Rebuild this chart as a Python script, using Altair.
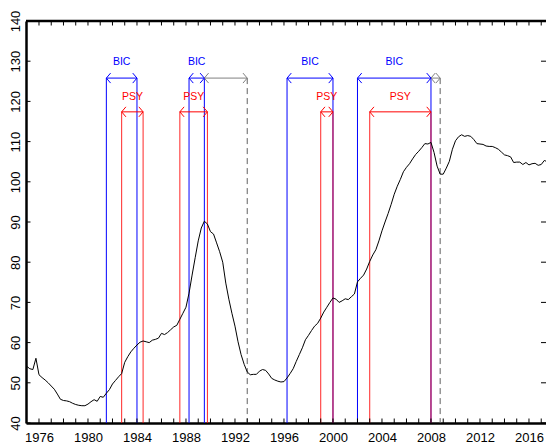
import altair as alt
import pandas as pd

# ---------------- data ----------------
start_year = 1975.0
hpi = [
    54.1, 53.5, 53.3, 56.1,
    52.0, 51.3, 50.7, 50.0,
    49.2, 48.4, 47.2, 45.9,
    45.6, 45.5, 45.3, 44.9,
    44.6, 44.4, 44.3, 44.3,
    44.7, 45.3, 45.8, 45.4,
    46.6, 46.4, 47.4, 48.3,
    49.7, 50.6, 51.5, 52.3,
    55.1, 56.5, 57.7, 58.6,
    59.4, 60.1, 60.4, 60.2,
    60.0, 60.6, 60.8, 61.1,
    62.3, 62.0, 62.5, 63.2,
    63.9, 64.3, 65.8, 67.3,
    68.8, 72.3, 76.8, 81.1,
    85.3, 88.5, 90.2, 89.5,
    87.6, 87.0, 84.8, 82.6,
    80.0, 74.8, 70.8, 67.3,
    64.1, 60.2, 57.0, 54.6,
    52.7, 52.0, 52.1, 52.1,
    52.9, 53.3, 53.1, 52.2,
    51.1, 50.7, 50.4, 50.2,
    50.3, 51.2, 52.3, 53.5,
    55.3, 57.0, 58.7, 60.7,
    61.8, 63.0, 64.1, 64.8,
    66.1, 67.6, 68.8, 70.0,
    71.1, 70.8, 70.0, 70.4,
    70.9, 70.7, 71.4, 72.1,
    75.1, 76.0, 76.8, 78.3,
    80.2, 81.8, 83.1, 85.3,
    87.8, 90.0, 92.1, 94.4,
    96.9, 98.9, 100.6, 102.5,
    103.6, 104.5, 105.7, 106.8,
    107.6, 108.5, 109.5, 109.4,
    109.8, 107.3, 103.9, 101.9,
    101.9, 103.4, 105.1, 108.1,
    110.2, 111.2, 111.7, 111.3,
    111.5, 111.3, 110.5, 109.5,
    109.4, 109.3, 108.9, 108.8,
    108.8, 108.5, 108.1, 107.4,
    106.7, 106.5, 106.2, 104.8,
    104.9, 104.9, 104.3, 104.8,
    104.2, 104.5, 104.6, 104.1,
    104.3, 105.3, 105.0, 104.6,
    104.2,
]

bic_start = [1981.5, 1988.25, 1996.25, 2002.0]
bic_end = [1984.0, 1989.5, 2000.0, 2008.0]
psy_start = [1982.75, 1987.5, 1999.0, 2003.0]
psy_end = [1984.5, 1989.75, 2000.0, 2008.0]
gap_start = [1989.5, 2008.0]
gap_end = [1993.0, 2008.75]

x_ticks = list(range(1976, 2017, 4))
minor_years = list(range(1976, 2018))
y_ticks = list(range(40, 141, 10))

X_MIN, X_MAX = 1974.94, 2017.39
Y_MIN, Y_MAX = 40, 140
BIC_LEVEL, PSY_LEVEL = 125.8, 117.4
BIC_TEXT, PSY_TEXT = 129.8, 121.2

W, H = 520, 402

BLUE = "#0000ff"
RED = "#ff0000"
GREY = "#808080"
DASH = "#606060"
FONT = "Liberation Sans"

# ---------------- tables ----------------
series = pd.DataFrame({
    "year": [start_year + 0.25 * i for i in range(len(hpi))],
    "hpi": hpi,
})

seg_rows = []
for s, e in zip(bic_start, bic_end):
    seg_rows.append({"kind": "BIC", "start": s, "end": e, "level": BIC_LEVEL,
                     "tlev": BIC_TEXT, "color": BLUE})
for s, e in zip(psy_start, psy_end):
    seg_rows.append({"kind": "PSY", "start": s, "end": e, "level": PSY_LEVEL,
                     "tlev": PSY_TEXT, "color": RED})
for s, e in zip(gap_start, gap_end):
    seg_rows.append({"kind": "", "start": s, "end": e, "level": BIC_LEVEL,
                     "tlev": BIC_TEXT, "color": GREY})
segs = pd.DataFrame(seg_rows)
segs["mid"] = (segs["start"] + segs["end"]) / 2

vert_rows = []
for s, e in zip(bic_start, bic_end):
    for v in (s, e):
        vert_rows.append({"x": v, "top": BIC_LEVEL, "bot": Y_MIN, "grp": "BIC"})
for s, e in zip(psy_start, psy_end):
    for v in (s, e):
        vert_rows.append({"x": v, "top": PSY_LEVEL, "bot": Y_MIN, "grp": "PSY"})
for e in gap_end:
    vert_rows.append({"x": e, "top": BIC_LEVEL, "bot": Y_MIN, "grp": "GAP"})
verts = pd.DataFrame(vert_rows)

xscale = alt.Scale(domain=[X_MIN, X_MAX], nice=False, zero=False)
yscale = alt.Scale(domain=[Y_MIN, Y_MAX], nice=False, zero=False)
xaxis = alt.Axis(values=x_ticks, format="d", ticks=False, tickSize=0, grid=False,
                 domainColor="black", domainWidth=2.5, labelFont=FONT,
                 labelFontSize=13, labelColor="black", labelPadding=8,
                 labelBaseline="top", labelFlush=False, title=None)
yaxis = alt.Axis(values=y_ticks, ticks=False, tickSize=0, grid=False,
                 domainColor="black", domainWidth=2.5, labelFont=FONT,
                 labelFontSize=13, labelColor="black", labelAngle=270,
                 labelAlign="center", labelBaseline="alphabetic",
                 labelPadding=7, labelFlush=False, title=None)


def X(f):
    return alt.X(f, type="quantitative", scale=xscale, axis=xaxis, title=None)


def Y(f):
    return alt.Y(f, type="quantitative", scale=yscale, axis=yaxis, title=None)


# vertical lines
v_blue = alt.Chart(verts).transform_filter("datum.grp == 'BIC'").mark_rule(
    color=BLUE, strokeWidth=1).encode(x=X("x"), y=Y("top"), y2="bot")
v_red = alt.Chart(verts).transform_filter("datum.grp == 'PSY'").mark_rule(
    color=RED, strokeWidth=1, opacity=0.85).encode(x=X("x"), y=Y("top"), y2="bot")
v_gap = alt.Chart(verts).transform_filter("datum.grp == 'GAP'").mark_rule(
    color=DASH, strokeWidth=1, strokeDash=[6, 4]).encode(x=X("x"), y=Y("top"), y2="bot")

# horizontal arrows
h_lines = alt.Chart(segs).mark_rule(strokeWidth=1).encode(
    x=X("start"), x2="end", y=Y("level"),
    color=alt.Color("color:N", scale=None))
left_head = alt.Chart(segs).mark_point(
    shape="M0.85,-1L0,0L0.85,1", filled=False, size=100, strokeWidth=1, opacity=1).encode(
    x=X("start"), y=Y("level"), color=alt.Color("color:N", scale=None))
right_head = alt.Chart(segs).mark_point(
    shape="M-0.85,-1L0,0L-0.85,1", filled=False, size=100, strokeWidth=1, opacity=1).encode(
    x=X("end"), y=Y("level"), color=alt.Color("color:N", scale=None))
labels = alt.Chart(segs).transform_filter("datum.kind != ''").mark_text(
    font=FONT, fontSize=10.5, align="center", baseline="middle").encode(
    x=X("mid"), y=Y("tlev"), text="kind:N", color=alt.Color("color:N", scale=None))

# series line
line = alt.Chart(series).mark_line(color="black", strokeWidth=1, clip=True).encode(
    x=X("year"), y=Y("hpi"))

# inward ticks
yr_df = pd.DataFrame({"yr": minor_years})
yv_df = pd.DataFrame({"v": y_ticks})
tick_bottom = alt.Chart(yr_df).mark_rule(color="black", strokeWidth=1).encode(
    x=X("yr"), y=alt.value(H), y2=alt.value(H - 4.5))
tick_top = alt.Chart(yr_df).mark_rule(color="black", strokeWidth=1).encode(
    x=X("yr"), y=alt.value(0), y2=alt.value(4.5))
tick_left = alt.Chart(yv_df).mark_rule(color="black", strokeWidth=1).encode(
    y=Y("v"), x=alt.value(0), x2=alt.value(4.5))
tick_right = alt.Chart(yv_df).mark_rule(color="black", strokeWidth=1).encode(
    y=Y("v"), x=alt.value(W), x2=alt.value(W - 5))
top_border = alt.Chart(pd.DataFrame({"a": [0]})).mark_rule(
    color="black", strokeWidth=2.5).encode(
    x=alt.value(0), x2=alt.value(W), y=alt.value(0))

chart = alt.layer(
    v_blue, v_red, v_gap, h_lines, left_head, right_head, labels, line,
    tick_bottom, tick_top, tick_left, tick_right, top_border,
).properties(
    width=W, height=H,
    autosize=alt.AutoSizeParams(type="none"),
    padding={"left": 18, "top": 13, "right": 0, "bottom": 22},
    background="white",
).configure_view(strokeWidth=0)

chart.save("out.html", embed_options={"renderer": "svg", "actions": False})
